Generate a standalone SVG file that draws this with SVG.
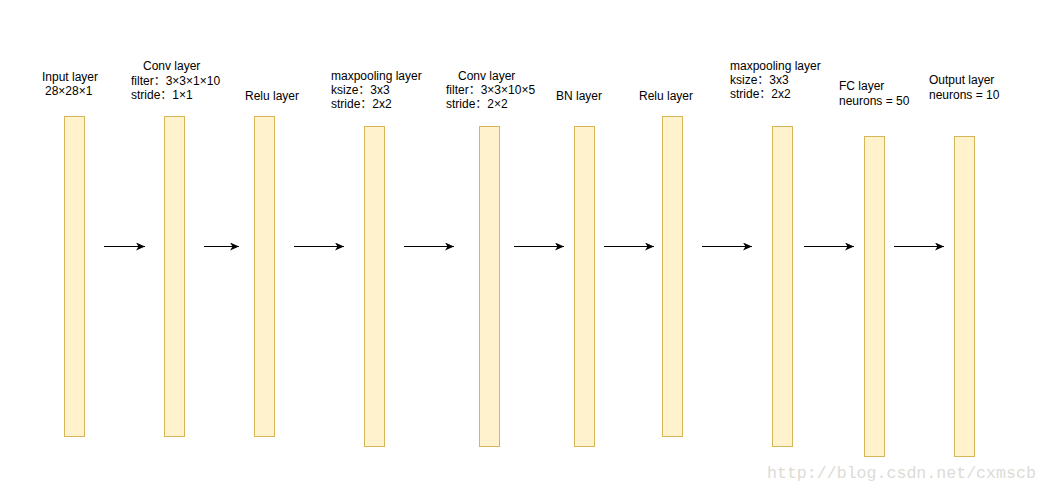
<svg xmlns="http://www.w3.org/2000/svg" width="1049" height="493" viewBox="0 0 1049 493">
<defs>
<style>
.n{fill:#fff2cc;stroke:#d6b656;stroke-width:1}
.t{font-family:"Liberation Sans","Noto Sans CJK SC",sans-serif;font-size:12px;fill:#000}
.c{stroke:#000;stroke-width:1;fill:none}
.wm{font-family:"Liberation Mono","DejaVu Sans Mono",monospace;font-size:16.6px;fill:#dcdcd6}
</style>
<marker id="ah" markerWidth="10" markerHeight="8" refX="9" refY="4" orient="auto" markerUnits="userSpaceOnUse">
<path d="M0,0 L9,4 L0,8 L2.5,4 Z" fill="#000"/>
</marker>
</defs>
<rect width="1049" height="493" fill="#fff"/>
<g id="input">
<rect class="n" x="64.5" y="116.5" width="20" height="320"/>
<text class="t" x="42" y="81">Input layer</text>
<text class="t" x="45" y="95">28×28×1</text>
</g>
<g id="conv1">
<rect class="n" x="164.5" y="116.5" width="20" height="320"/>
<text class="t" x="143" y="70">Conv layer</text>
<text class="t" x="131" y="85">filter：3×3×1×10</text>
<text class="t" x="131" y="99">stride：1×1</text>
</g>
<g id="relu1">
<rect class="n" x="254.5" y="116.5" width="20" height="320"/>
<text class="t" x="245" y="100">Relu layer</text>
</g>
<g id="maxpool1">
<rect class="n" x="364.5" y="126.5" width="20" height="320"/>
<text class="t" x="331" y="80">maxpooling layer</text>
<text class="t" x="331" y="94">ksize：3x3</text>
<text class="t" x="331" y="108">stride：2x2</text>
</g>
<g id="conv2">
<rect class="n" x="479.5" y="126.5" width="20" height="320"/>
<text class="t" x="458" y="80">Conv layer</text>
<text class="t" x="446" y="94">filter：3×3×10×5</text>
<text class="t" x="446" y="108">stride：2×2</text>
</g>
<g id="bn">
<rect class="n" x="574.5" y="126.5" width="20" height="320"/>
<text class="t" x="556" y="100">BN layer</text>
</g>
<g id="relu2">
<rect class="n" x="662.5" y="116.5" width="20" height="320"/>
<text class="t" x="639" y="100">Relu layer</text>
</g>
<g id="maxpool2">
<rect class="n" x="772.5" y="126.5" width="20" height="320"/>
<text class="t" x="730" y="70">maxpooling layer</text>
<text class="t" x="730" y="84">ksize：3x3</text>
<text class="t" x="730" y="98">stride：2x2</text>
</g>
<g id="fc">
<rect class="n" x="864.5" y="136.5" width="20" height="320"/>
<text class="t" x="839" y="90">FC layer</text>
<text class="t" x="839" y="105">neurons = 50</text>
</g>
<g id="output">
<rect class="n" x="954.5" y="136.5" width="20" height="320"/>
<text class="t" x="929" y="84">Output layer</text>
<text class="t" x="929" y="99">neurons = 10</text>
</g>
<g id="connectors">
<line class="c" x1="104" y1="246.5" x2="145" y2="246.5" marker-end="url(#ah)"/>
<line class="c" x1="204" y1="246.5" x2="239" y2="246.5" marker-end="url(#ah)"/>
<line class="c" x1="294" y1="246.5" x2="344" y2="246.5" marker-end="url(#ah)"/>
<line class="c" x1="404" y1="246.5" x2="454" y2="246.5" marker-end="url(#ah)"/>
<line class="c" x1="514" y1="246.5" x2="564" y2="246.5" marker-end="url(#ah)"/>
<line class="c" x1="604" y1="246.5" x2="654" y2="246.5" marker-end="url(#ah)"/>
<line class="c" x1="702" y1="246.5" x2="752" y2="246.5" marker-end="url(#ah)"/>
<line class="c" x1="804" y1="246.5" x2="854" y2="246.5" marker-end="url(#ah)"/>
<line class="c" x1="894" y1="246.5" x2="944" y2="246.5" marker-end="url(#ah)"/>
</g>
<text class="wm" x="767" y="478">http://blog.csdn.net/cxmscb</text>
</svg>
